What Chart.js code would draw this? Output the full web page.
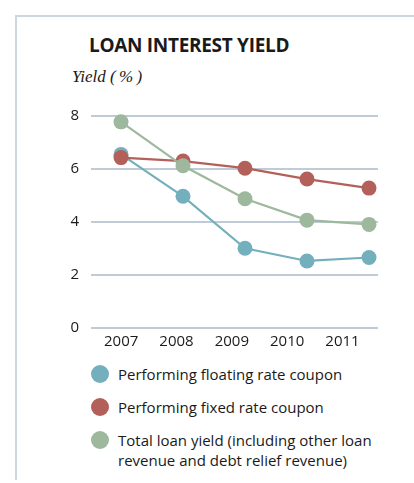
<!DOCTYPE html>
<html>
<head>
<meta charset="utf-8">
<script src="https://cdn.jsdelivr.net/npm/chart.js@4"></script>
<style>
  html, body { margin: 0; padding: 0; background: #fff; }
  body { width: 414px; height: 483px; position: relative; overflow: hidden; font-family: "Open Sans", sans-serif; color: #1a1a1a; }
  .frame { position: absolute; left: 15px; top: 15px; width: 420px; height: 465px; border-top: 2px solid #cbd8e2; border-left: 2px solid #cbd8e2; box-sizing: border-box; }
  .title { position: absolute; left: 89px; top: 32px; font-weight: bold; font-size: 19px; letter-spacing: -0.3px; white-space: nowrap; }
  .ylabel { position: absolute; left: 72px; top: 67px; font-family: "Liberation Serif", serif; font-style: italic; font-size: 17px; white-space: nowrap; }
  .chart { position: absolute; left: 55px; top: 95px; width: 340px; height: 260px; }
  #legend { position: absolute; left: 91px; top: 364px; font-size: 15px; line-height: 20px; }
  .item { position: relative; padding-left: 27px; margin-bottom: 13px; }
  .dot { position: absolute; left: 0; top: 1px; width: 18px; height: 18px; border-radius: 50%; }
</style>
</head>
<body>
<div class="frame"></div>
<div class="title">LOAN INTEREST YIELD</div>
<div class="ylabel">Yield (&#8201;%&#8201;)</div>
<div class="chart"><canvas id="miCanvas"></canvas></div>
<div id="legend"></div>
<script>
const anios = [2007, 2008, 2009, 2010, 2011];
const flotante = [6.55, 4.97, 3.01, 2.53, 2.66];
const fijo = [6.43, 6.3, 6.03, 5.62, 5.28];
const total = [7.78, 6.12, 4.88, 4.07, 3.91];
const marcasY = [0, 2, 4, 6, 8];

const series = [
  { label: "Performing floating rate coupon", data: flotante, color: "#74afbd", order: 2 },
  { label: "Performing fixed rate coupon", data: fijo, color: "#b3605b", order: 1 },
  { label: "Total loan yield (including other loan revenue and debt relief revenue)", data: total, color: "#9db89c", order: 0 },
];

const ctx = document.getElementById("miCanvas");

const myChart = new Chart(ctx, {
  type: "line",
  data: {
    datasets: series.map((s) => ({
      label: s.label,
      data: anios.map((a, i) => ({ x: a, y: s.data[i] })),
      borderColor: s.color,
      backgroundColor: s.color,
      pointBackgroundColor: s.color,
      pointBorderWidth: 0,
      pointRadius: 7.5,
      borderWidth: 2.2,
      order: s.order,
      clip: false,
      xAxisID: "x",
    })),
  },
  options: {
    responsive: true,
    maintainAspectRatio: false,
    animation: false,
    layout: { padding: { top: 19, right: 17, left: 0, bottom: 0 } },
    scales: {
      // eje donde van los puntos
      x: {
        type: "linear",
        display: false,
        min: 2006.516,
        max: 2011.145,
      },
      // eje solo para las etiquetas de los años
      anios: {
        type: "linear",
        position: "bottom",
        min: 2006.455,
        max: 2011.641,
        afterBuildTicks: (axis) => {
          axis.ticks = anios.map((v) => ({ value: v }));
        },
        afterFit: (axis) => {
          axis.height = 27;
        },
        grid: { display: false },
        border: { display: false },
        ticks: {
          padding: -3,
          maxRotation: 0,
          autoSkip: false,
          color: "#1a1a1a",
          font: { family: "Open Sans", size: 15 },
          callback: (v) => String(v),
        },
      },
      y: {
        min: 0,
        max: 8,
        afterBuildTicks: (axis) => {
          axis.ticks = marcasY.map((v) => ({ value: v }));
        },
        afterFit: (axis) => {
          axis.width = 36;
        },
        grid: { color: "#bfccd8", lineWidth: 2, drawTicks: false },
        border: { display: false },
        ticks: {
          padding: 12,
          color: "#1a1a1a",
          font: { family: "Open Sans", size: 15 },
        },
      },
    },
    plugins: {
      legend: { display: false },
      tooltip: { enabled: false },
    },
  },
});

// leyenda en html para poder partir la ultima linea
const leyenda = document.getElementById("legend");
const textos = [
  ["Performing floating rate coupon"],
  ["Performing fixed rate coupon"],
  ["Total loan yield (including other loan", "revenue and debt relief revenue)"],
];
series.forEach((s, i) => {
  const item = document.createElement("div");
  item.className = "item";
  const dot = document.createElement("span");
  dot.className = "dot";
  dot.style.background = s.color;
  item.appendChild(dot);
  textos[i].forEach((t, j) => {
    if (j > 0) item.appendChild(document.createElement("br"));
    item.appendChild(document.createTextNode(t));
  });
  leyenda.appendChild(item);
});
</script>
</body>
</html>
